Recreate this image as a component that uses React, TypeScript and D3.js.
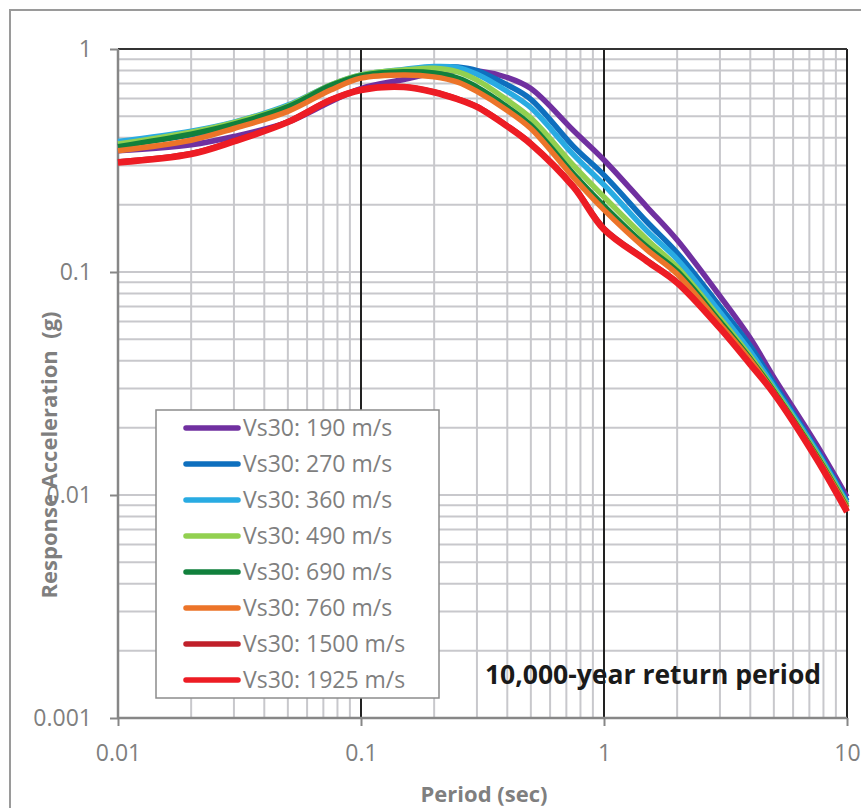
import React, { useEffect, useRef } from 'react';
import * as d3 from 'd3';

// spectral periods (sec)
const periods = [0.01, 0.02, 0.03, 0.05, 0.075, 0.1, 0.15, 0.2, 0.25, 0.3, 0.4, 0.5, 0.75, 1, 1.5, 2, 3, 4, 5, 7.5, 10];

// response acceleration (g) per site class
const vs190 = [0.35, 0.372, 0.405, 0.47, 0.58, 0.665, 0.73, 0.78, 0.8, 0.8, 0.745, 0.665, 0.43, 0.318, 0.196, 0.139, 0.078, 0.0505, 0.0337, 0.0168, 0.0098];
const vs270 = [0.37, 0.412, 0.455, 0.55, 0.68, 0.755, 0.8, 0.83, 0.83, 0.8, 0.69, 0.595, 0.365, 0.272, 0.168, 0.122, 0.07, 0.0465, 0.0317, 0.016, 0.0094];
const vs360 = [0.385, 0.428, 0.47, 0.56, 0.69, 0.765, 0.81, 0.835, 0.825, 0.77, 0.645, 0.545, 0.335, 0.246, 0.153, 0.114, 0.066, 0.044, 0.0306, 0.0157, 0.0092];
const vs490 = [0.375, 0.424, 0.468, 0.555, 0.69, 0.765, 0.805, 0.82, 0.79, 0.725, 0.59, 0.49, 0.3, 0.217, 0.14, 0.105, 0.062, 0.0418, 0.0298, 0.0153, 0.009];
const vs690 = [0.365, 0.415, 0.46, 0.55, 0.685, 0.76, 0.79, 0.78, 0.74, 0.675, 0.55, 0.455, 0.275, 0.198, 0.13, 0.101, 0.06, 0.0408, 0.0292, 0.015, 0.0088];
const vs760 = [0.35, 0.39, 0.44, 0.525, 0.655, 0.74, 0.765, 0.75, 0.71, 0.645, 0.53, 0.44, 0.265, 0.19, 0.126, 0.098, 0.0585, 0.0402, 0.0288, 0.0148, 0.0087];
const vs1500 = [0.312, 0.34, 0.387, 0.472, 0.592, 0.657, 0.676, 0.642, 0.597, 0.552, 0.452, 0.377, 0.242, 0.157, 0.113, 0.09, 0.0563, 0.0387, 0.0286, 0.0146, 0.0085];
const vs1925 = [0.31, 0.338, 0.385, 0.47, 0.59, 0.655, 0.675, 0.64, 0.595, 0.55, 0.45, 0.375, 0.24, 0.155, 0.112, 0.0895, 0.056, 0.0385, 0.0285, 0.0145, 0.0084];

const seriesNames = ['Vs30: 190 m/s', 'Vs30: 270 m/s', 'Vs30: 360 m/s', 'Vs30: 490 m/s', 'Vs30: 690 m/s', 'Vs30: 760 m/s', 'Vs30: 1500 m/s', 'Vs30: 1925 m/s'];
const seriesValues = [vs190, vs270, vs360, vs490, vs690, vs760, vs1500, vs1925];
const seriesColors = ['#7030A0', '#0E6FBE', '#29ABE2', '#92D050', '#11803C', '#EC7429', '#C0202A', '#ED1C24'];

const xTicks = [0.01, 0.1, 1, 10];
const yTicks = [0.001, 0.01, 0.1, 1];

export default function App() {
  const svgRef = useRef<SVGSVGElement>(null);

  useEffect(() => {
    const svg = d3.select(svgRef.current);
    svg.selectAll('*').remove();

    const width = 861;
    const height = 808;
    const plot = { left: 118, right: 847, top: 49, bottom: 718 };
    const font = "'Open Sans', sans-serif";

    svg.append('rect').attr('x', 0).attr('y', 0).attr('width', width).attr('height', height).attr('fill', '#fff');
    // chart frame
    svg.append('rect')
      .attr('x', 10).attr('y', 10).attr('width', 900).attr('height', 900)
      .attr('fill', 'none').attr('stroke', '#9a9a9a').attr('stroke-width', 2);

    const x = d3.scaleLog().domain([0.01, 10]).range([plot.left, plot.right]);
    const y = d3.scaleLog().domain([0.001, 1]).range([plot.bottom, plot.top]);

    // minor grid
    const minorX: number[] = [];
    const minorY: number[] = [];
    [0.01, 0.1, 1].forEach(d => { for (let k = 2; k <= 9; k++) minorX.push(d * k); });
    [0.001, 0.01, 0.1].forEach(d => { for (let k = 2; k <= 9; k++) minorY.push(d * k); });

    const grid = svg.append('g');
    grid.selectAll('line.vx').data(minorX).enter().append('line')
      .attr('x1', d => x(d)).attr('x2', d => x(d))
      .attr('y1', plot.top).attr('y2', plot.bottom)
      .attr('stroke', '#c8c8cc').attr('stroke-width', 2);
    grid.selectAll('line.hy').data([...minorY, 0.01, 0.1]).enter().append('line')
      .attr('x1', plot.left).attr('x2', plot.right)
      .attr('y1', d => y(d)).attr('y2', d => y(d))
      .attr('stroke', '#c8c8cc').attr('stroke-width', 2);
    // major verticals
    grid.selectAll('line.mx').data([0.1, 1, 10]).enter().append('line')
      .attr('x1', d => x(d)).attr('x2', d => x(d))
      .attr('y1', plot.top).attr('y2', plot.bottom)
      .attr('stroke', '#222').attr('stroke-width', 2);
    grid.append('line')
      .attr('x1', plot.left).attr('x2', plot.right)
      .attr('y1', y(1)).attr('y2', y(1))
      .attr('stroke', '#333').attr('stroke-width', 2);

    // axes
    const xAxis = svg.append('g')
      .attr('transform', `translate(0,${plot.bottom})`)
      .call(d3.axisBottom(x).tickValues(xTicks).tickSize(8).tickFormat(d => String(d)));
    const yAxis = svg.append('g')
      .attr('transform', `translate(${plot.left},0)`)
      .call(d3.axisLeft(y).tickValues(yTicks).tickSize(8).tickFormat(d => String(d)));
    [xAxis, yAxis].forEach(a => {
      a.select('.domain').attr('stroke', '#878787').attr('stroke-width', 2.5);
      a.selectAll('.tick line').attr('stroke', '#878787').attr('stroke-width', 2);
      a.selectAll('.tick text')
        .attr('fill', '#7f7f7f')
        .style('font-family', font)
        .style('font-size', '23px');
    });
    xAxis.select('.domain').attr('d', `M${plot.left},0H${plot.right}`);
    yAxis.select('.domain').attr('d', `M0,${plot.bottom}V${plot.top}`);
    xAxis.selectAll('.tick text').attr('y', 27);
    yAxis.selectAll('.tick text').attr('x', -26).attr('dy', '0.34em');

    // curves (smoothed like the source spreadsheet chart)
    const line = d3.line<[number, number]>()
      .x(d => x(d[0]))
      .y(d => y(d[1]))
      .curve(d3.curveCatmullRom.alpha(0.5));

    seriesValues.forEach((vals, i) => {
      const pts = periods.map((p, j) => [p, vals[j]] as [number, number]);
      svg.append('path')
        .attr('d', line(pts))
        .attr('fill', 'none')
        .attr('stroke', seriesColors[i])
        .attr('stroke-width', i === 7 ? 6.5 : 5.5)
        .attr('stroke-linejoin', 'round');
    });

    // legend
    const lg = svg.append('g');
    lg.append('rect')
      .attr('x', 156).attr('y', 410).attr('width', 283).attr('height', 288)
      .attr('fill', '#fff').attr('stroke', '#8c8c8c').attr('stroke-width', 1.5);
    seriesNames.forEach((name, i) => {
      const cy = 428 + i * 36;
      lg.append('line')
        .attr('x1', 186).attr('x2', 238).attr('y1', cy).attr('y2', cy)
        .attr('stroke', seriesColors[i]).attr('stroke-width', 5.5)
        .attr('stroke-linecap', 'round');
      lg.append('text')
        .attr('x', 243).attr('y', cy).attr('dy', '0.35em')
        .attr('fill', '#7f7f7f')
        .style('font-family', font)
        .style('font-size', '23px')
        .text(name);
    });

    // annotation
    svg.append('text')
      .attr('x', 653).attr('y', 684)
      .attr('text-anchor', 'middle')
      .attr('fill', '#1a1a1a')
      .style('font-family', font)
      .style('font-weight', 'bold')
      .style('font-size', '26.5px')
      .text('10,000-year return period');

    // axis titles
    svg.append('text')
      .attr('x', 484).attr('y', 802)
      .attr('text-anchor', 'middle')
      .attr('fill', '#7f7f7f')
      .style('font-family', font)
      .style('font-weight', 'bold')
      .style('font-size', '22px')
      .text('Period (sec)');
    svg.append('text')
      .attr('transform', 'translate(57,455) rotate(-90)')
      .attr('text-anchor', 'middle')
      .attr('fill', '#7f7f7f')
      .style('font-family', font)
      .style('font-weight', 'bold')
      .style('font-size', '22px')
      .style('white-space', 'pre')
      .text('Response Acceleration  (g)');
  }, []);

  return (
    <svg
      ref={svgRef}
      width={861}
      height={808}
      style={{ position: 'absolute', left: 0, top: 0 }}
    />
  );
}
